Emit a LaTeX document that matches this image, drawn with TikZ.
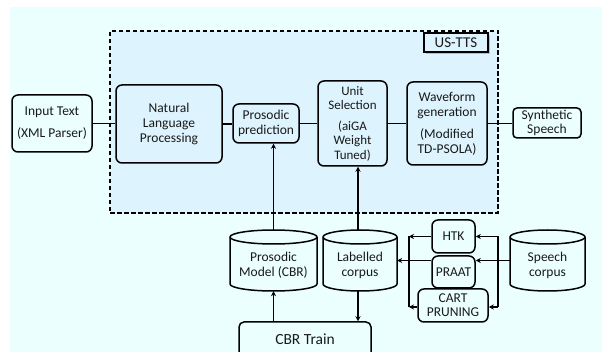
\documentclass[tikz,border=0pt]{standalone}
\usepackage{fontspec}
\setmainfont{Carlito}
\usetikzlibrary{shadows,arrows.meta}
\definecolor{bgc}{RGB}{235,255,255}
\definecolor{ttsc}{RGB}{221,243,253}
\definecolor{txtc}{RGB}{25,25,25}
\newcommand\dbcyl[6]{%
  \node[minimum width=#4pt, minimum height=#5pt, inner sep=0pt] (#1) at (#2,-#3) {};
  \filldraw[line width=1.5pt, fill=bgc] ({#2-#4/2},{-#3+#5/2-7}) -- ({#2-#4/2},{-#3-#5/2+7})
    arc[start angle=180,end angle=360,x radius=#4/2,y radius=7] -- ({#2+#4/2},{-#3+#5/2-7})
    arc[start angle=0,end angle=180,x radius=#4/2,y radius=7] -- cycle;
  \draw[line width=1.5pt] ({#2-#4/2},{-#3+#5/2-7}) arc[start angle=180,end angle=360,x radius=#4/2,y radius=7];
  \node[txtnode] (#1t) at (#2,{-#3-5}) {#6};
}
\begin{document}
\begin{tikzpicture}[x=1pt,y=1pt,
  txtnode/.style={align=center, font=\fontsize{13.5}{15}\selectfont, text=txtc, inner sep=0pt},
  box/.style={draw, line width=1.5pt, rounded corners=6pt, align=center,
    font=\fontsize{13.5}{15}\selectfont, text=txtc, inner sep=1pt},
  inbox/.style={box, fill=ttsc},
  outbox/.style={box, fill=bgc},
  conn/.style={line width=1.5pt},
  arr/.style={conn, -{Stealth[length=5pt,width=5pt]}},
]
\useasboundingbox (0,0) rectangle (602,-352);
\clip (0,0) rectangle (602,-352);
\fill[bgc] (10,-7) rectangle (602,-352);

% US-TTS region
\node[draw, line width=1.5pt, dash pattern=on 4.5pt off 2.5pt, fill=ttsc,
  minimum width=388pt, minimum height=182pt, inner sep=0pt] (tts) at (304,-122) {};
\node[draw, line width=1.7pt, fill=ttsc, minimum width=64pt, minimum height=19pt, inner sep=0pt,
  font=\fontsize{15}{16}\selectfont, text=txtc,
  drop shadow={fill=black!45, shadow xshift=2pt, shadow yshift=-2pt}] (ttslabel) at (456,-42.5) {US-TTS};

% top row
\node[outbox, minimum width=80pt, minimum height=57pt] (in) at (52,-123.5) {Input Text\\[7pt](XML Parser)};
\node[inbox, minimum width=106pt, minimum height=78pt] (nlp) at (169,-124) {Natural\\Language\\Processing};
\node[inbox, minimum width=66pt, minimum height=39pt] (pp) at (266,-123.5) {Prosodic\\prediction};
\node[inbox, minimum width=69pt, minimum height=85pt, font=\fontsize{13}{14.5}\selectfont] (us) at (352.5,-123.5) {Unit\\Selection\\[6pt](aiGA\\Weight\\Tuned)};
\node[inbox, minimum width=80pt, minimum height=83pt] (wg) at (447,-123.5) {Waveform\\generation\\[7pt](Modified\\TD-PSOLA)};
\node[outbox, rounded corners=4pt, minimum width=68pt, minimum height=30pt, font=\fontsize{13.5}{13.5}\selectfont] (ss) at (547,-123) {Synthetic\\Speech};

\draw[conn] (in.east) -- (in.east -| nlp.west);
\draw[conn] (nlp.east) -- (nlp.east -| pp.west);
\draw[conn] (pp.east) -- (pp.east -| us.west);
\draw[conn] (us.east) -- (us.east -| wg.west);
\draw[conn] (wg.east) -- (wg.east -| ss.west);

% bottom
\dbcyl{pm}{273.5}{260.5}{87}{61}{Prosodic\\Model (CBR)}
\dbcyl{lc}{360}{260.5}{74}{61}{Labelled\\corpus}
\dbcyl{sc}{547.5}{260.5}{75}{61}{Speech\\corpus}

\node[outbox, minimum width=43pt, minimum height=33pt] (htk) at (453.5,-236.5) {HTK};
\node[outbox, minimum width=43pt, minimum height=32pt] (praat) at (453.5,-272) {PRAAT};
\node[outbox, minimum width=70pt, minimum height=33pt, font=\fontsize{13.5}{14}\selectfont] (cart) at (453,-305.5) {CART\\PRUNING};
\node[outbox, rounded corners=5pt, minimum width=132pt, minimum height=40pt, font=\fontsize{15.5}{17}\selectfont] (cbr) at (305,-342) {\raisebox{5pt}{CBR Train}};

\draw[arr] (pm.north) -- (pm.north |- pp.south);
\draw[arr] ([xshift=-2pt]lc.north) -- ([xshift=-2pt]lc.north |- us.south);
\draw[arr] (pm.south |- cbr.north) -- (pm.south);
\draw[arr] ([xshift=-2pt]lc.south) -- ([xshift=-2pt]lc.south |- cbr.north);

\coordinate (rb1) at (498,-236.5);
\coordinate (rb2) at (498,-307);
\coordinate (lb1) at (409,-236.5);
\coordinate (lb2) at (409,-307);
\draw[arr] (sc.west) -- (sc.west -| praat.east);
\draw[conn] (rb1) -- (rb2);
\draw[arr] (rb1) -- (htk.east);
\draw[arr] (rb2) -- (rb2 -| cart.east);
\draw[conn] (lb1) -- (lb2);
\draw[arr] (htk.west) -- (lb1);
\draw[arr] (lb2 -| cart.west) -- (lb2);
\draw[arr] (sc.west -| praat.west) -- (sc.west -| lc.east);
\end{tikzpicture}
\end{document}
